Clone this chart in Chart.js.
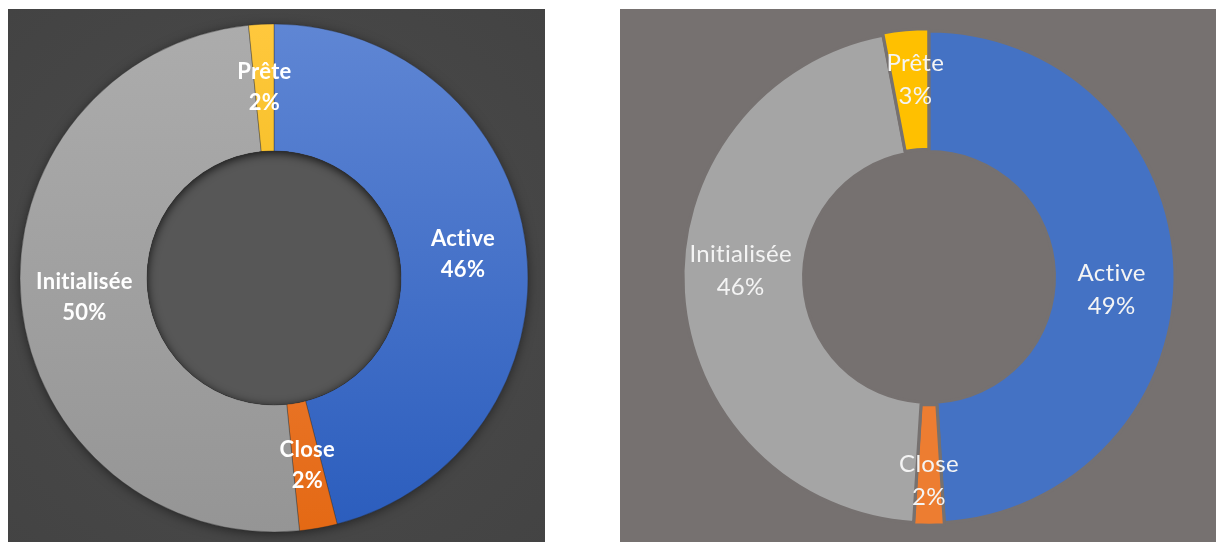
<!DOCTYPE html>
<html>
<head>
<meta charset="utf-8">
<script src="https://cdn.jsdelivr.net/npm/chart.js@4/dist/chart.umd.min.js"></script>
<style>
  html, body { margin: 0; padding: 0; background: #fff; }
  body { width: 1216px; height: 542px; position: relative; overflow: hidden; }
  .panel { position: absolute; top: 9px; height: 533px; }
  #leftPanel { left: 8px; width: 537px; background: radial-gradient(circle at 50% 52%, #4c4c4c 0%, #474747 55%, #434343 100%); }
  #rightPanel { left: 620px; width: 596px; background: #767170; }
</style>
</head>
<body>
<div class="panel" id="leftPanel"><canvas id="leftChart"></canvas></div>
<div class="panel" id="rightPanel"><canvas id="rightChart"></canvas></div>
<script>
const categories = ['Active', 'Close', 'Initialisée', 'Prête'];
const leftValues = [46, 2.4, 50, 1.6];
const rightValues = [49, 2, 46, 3];

// left chart : Excel-like gradient fills
const leftGrad = [
  ['#5f86d4', '#2b5dbd'],
  ['#f38d50', '#e46914'],
  ['#acacac', '#959595'],
  ['#ffc83d', '#e5b000']
];
const rightColors = ['#4472c4', '#ed7d31', '#a5a5a5', '#ffc000'];

// small nudges of the right chart labels (Excel moved them a bit)
const rightNudge = [[-3, 19], [0, 16], [-3, -18], [4, -10]];

function gradFill(ctx) {
  const chart = ctx.chart;
  const area = chart.chartArea;
  if (!area) return leftGrad[ctx.dataIndex][0];
  const cy = (area.top + area.bottom) / 2;
  const R = chart.options.radius;
  const g = chart.ctx.createLinearGradient(0, cy - R, 0, cy + R);
  g.addColorStop(0, leftGrad[ctx.dataIndex][0]);
  g.addColorStop(1, leftGrad[ctx.dataIndex][1]);
  return g;
}

const labelPlugin = {
  id: 'sliceLabels',
  afterDatasetsDraw(chart, args, opts) {
    const ctx = chart.ctx;
    const meta = chart.getDatasetMeta(0);
    const values = chart.data.datasets[0].data;
    const total = values.reduce((a, b) => a + b, 0);
    ctx.save();
    ctx.font = opts.font;
    ctx.fillStyle = opts.color;
    ctx.textAlign = 'center';
    ctx.textBaseline = 'middle';
    ctx.letterSpacing = '0.3px'; // no "ti" ligature
    meta.data.forEach((arc, i) => {
      const p = arc.getCenterPoint();
      const n = opts.nudge ? opts.nudge[i] : [0, 0];
      const x = p.x + n[0], y = p.y + n[1];
      const lh = opts.lineHeight;
      ctx.fillText(chart.data.labels[i], x, y - lh / 2);
      ctx.fillText(Math.round(values[i] / total * 100) + '%', x, y + lh / 2);
    });
    ctx.restore();
  }
};

// shadow round the ring and a sunken hole, only for the left chart
const ringShadow = {
  id: 'ringShadow',
  beforeDatasetsDraw(chart) {
    const {ctx, chartArea} = chart;
    const cx = (chartArea.left + chartArea.right) / 2;
    const cy = (chartArea.top + chartArea.bottom) / 2;
    const R = chart.options.radius;
    ctx.save();
    ctx.shadowColor = 'rgba(0,0,0,0.55)';
    ctx.shadowBlur = 12;
    ctx.shadowOffsetY = 2;
    ctx.beginPath();
    ctx.arc(cx, cy, R - 1, 0, Math.PI * 2);
    ctx.fillStyle = '#777';
    ctx.fill();
    ctx.restore();
  },
  afterDatasetsDraw(chart) {
    const {ctx, chartArea} = chart;
    const cx = (chartArea.left + chartArea.right) / 2;
    const cy = (chartArea.top + chartArea.bottom) / 2;
    const r = chart.getDatasetMeta(0).controller.innerRadius;
    ctx.save();
    ctx.beginPath();
    ctx.arc(cx, cy, r, 0, Math.PI * 2);
    ctx.fillStyle = '#575757';
    ctx.fill();
    ctx.clip();
    ctx.shadowColor = 'rgba(0,0,0,0.75)';
    ctx.shadowBlur = 10;
    ctx.shadowOffsetY = 2;
    ctx.beginPath();
    ctx.arc(cx, cy, r + 40, 0, Math.PI * 2);
    ctx.arc(cx, cy, r, 0, Math.PI * 2, true);
    ctx.fillStyle = '#000';
    ctx.fill();
    ctx.restore();
  }
};

new Chart(document.getElementById('leftChart'), {
  type: 'doughnut',
  plugins: [ringShadow, labelPlugin],
  data: {
    labels: categories,
    datasets: [{
      data: leftValues,
      backgroundColor: gradFill,
      borderColor: 'rgba(40,40,40,0.45)',
      borderWidth: 0.8
    }]
  },
  options: {
    responsive: true,
    maintainAspectRatio: false,
    animation: false,
    radius: 254,
    cutout: '50%',
    layout: { padding: { left: 0, right: 5, top: 5, bottom: 0 } },
    plugins: {
      legend: { display: false },
      tooltip: { enabled: false },
      sliceLabels: { font: 'bold 22px Lato', color: '#ffffff', lineHeight: 31 }
    }
  }
});

new Chart(document.getElementById('rightChart'), {
  type: 'doughnut',
  plugins: [labelPlugin],
  data: {
    labels: categories,
    datasets: [{
      data: rightValues,
      backgroundColor: rightColors,
      borderColor: '#767170',
      borderWidth: 3,
      offset: [0, 5, 0, 5]
    }]
  },
  options: {
    responsive: true,
    maintainAspectRatio: false,
    animation: false,
    radius: 246,
    cutout: '51%',
    layout: { padding: { left: 22, right: 0, top: 3, bottom: 0 } },
    plugins: {
      legend: { display: false },
      tooltip: { enabled: false },
      sliceLabels: { font: '24px Lato', color: '#f4f4f4', lineHeight: 33, nudge: rightNudge }
    }
  }
});
</script>
</body>
</html>
